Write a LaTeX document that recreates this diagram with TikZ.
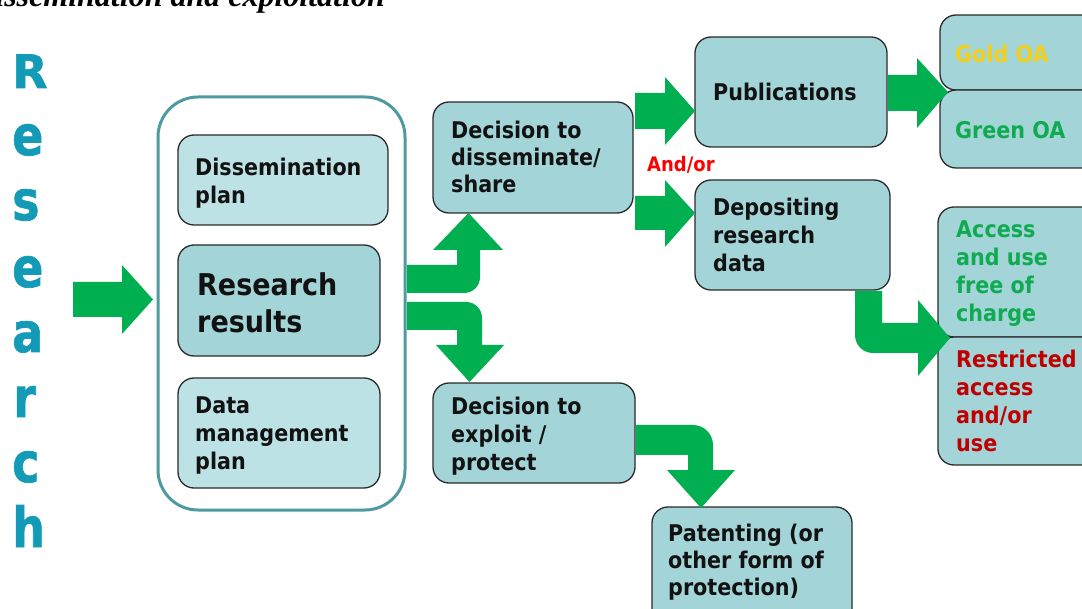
\documentclass[tikz,border=0pt]{standalone}
\usepackage{fontspec}
\setmainfont{DejaVu Sans}
\newfontfamily\boxfont{DejaVu Sans}[FakeStretch=0.9]
\newfontfamily\letterfont{DejaVu Sans}[BoldFeatures={FakeBold=1.3}]
\newfontfamily\titlefont{Liberation Serif}
\definecolor{teal1}{HTML}{139AB6}
\definecolor{contline}{HTML}{4E9AA0}
\definecolor{lightfill}{HTML}{BCE2E5}
\definecolor{darkfill}{HTML}{A2D4D8}
\definecolor{boxline}{HTML}{2B2B2B}
\definecolor{agreen}{HTML}{00B050}
\definecolor{tgreen}{HTML}{10AA50}
\definecolor{tgold}{HTML}{F2CF1A}
\definecolor{tred}{HTML}{C00000}
\definecolor{andred}{HTML}{FF0000}
\newcommand\lines[1]{\begin{tabular}[t]{@{}l@{}}#1\end{tabular}}
\newcommand\tall[1]{\scalebox{1}[1.2]{#1}}
\tikzset{
  box/.style={draw=boxline, line width=1.3pt, rounded corners=16pt, inner sep=0pt},
  lightbox/.style={box, fill=lightfill},
  darkbox/.style={box, fill=darkfill},
  txt/.style={anchor=base west, inner sep=0pt, text=black!93,
    font=\boxfont\bfseries\fontsize{23}{28}\selectfont},
  txtb/.style={txt, font=\boxfont\bfseries\fontsize{23}{27}\selectfont},
  bigtxt/.style={txt, font=\boxfont\bfseries\fontsize{30}{37}\selectfont},
  letter/.style={anchor=base west, inner sep=0pt, text=teal1,
    font=\letterfont\bfseries\fontsize{46}{46}\selectfont},
  blockarrow/.style={fill=agreen}
}
\begin{document}
\begin{tikzpicture}[x=1pt,y=-1pt]
\useasboundingbox (0,0) rectangle (1082,609);
\clip (0,0) rectangle (1082,609);

% cut title
\node[anchor=base east, inner sep=0pt, text=black,
  font=\titlefont\bfseries\itshape\fontsize{32}{32}\selectfont] (title) at (385,7)
  {dissemination and exploitation};

% vertical word
\node[letter] (l1) at (12,88) {R};
\node[letter] (l2) at (12,155) {\tall{e}};
\node[letter] (l3) at (12,220) {\tall{s}};
\node[letter] (l4) at (12,287) {\tall{e}};
\node[letter] (l5) at (12,352) {\tall{a}};
\node[letter] (l6) at (13,417) {\tall{r}};
\node[letter] (l7) at (12,482) {\tall{c}};
\node[letter] (l8) at (12,547) {\tall{h}};

% container
\node[draw=contline, line width=3pt, rounded corners=40pt, fill=white,
  minimum width=247pt, minimum height=413pt, inner sep=0pt] (cont) at (281.5,303.5) {};

% boxes
\node[lightbox, minimum width=210pt, minimum height=90pt] (dp) at (283,180) {};
\node[darkbox, minimum width=202pt, minimum height=111pt] (rr) at (279,300.5) {};
\node[lightbox, minimum width=202pt, minimum height=110pt] (dmp) at (279,433) {};
\node[darkbox, minimum width=200pt, minimum height=111pt] (dd) at (533,157.5) {};
\node[darkbox, minimum width=192pt, minimum height=110pt] (pub) at (791,92) {};
\node[darkbox, minimum width=195pt, minimum height=110pt] (dep) at (792.5,235) {};
\node[darkbox, minimum width=160pt, minimum height=75pt] (gold) at (1020,52.5) {};
\node[darkbox, minimum width=160pt, minimum height=78pt] (green) at (1020,129) {};
\node[darkbox, minimum width=162pt, minimum height=130pt] (acc) at (1019,272) {};
\node[darkbox, minimum width=162pt, minimum height=128pt] (res) at (1019,401) {};
\node[darkbox, minimum width=202pt, minimum height=100pt] (de) at (534,433) {};
\node[darkbox, minimum width=200pt, minimum height=133pt] (pat) at (752,573.5) {};

% texts
\node[txt] (dpt) at (195,176) {\lines{Dissemination\\plan}};
\node[bigtxt] (rrt) at (197,296) {\lines{Research\\results}};
\node[txt] (dmpt) at (195,414) {\lines{Data\\management\\plan}};
\node[txtb] (ddt) at (451,139) {\lines{Decision to\\disseminate/\\share}};
\node[txt] (pubt) at (713,101) {Publications};
\node[txt] (dept) at (713,216) {\lines{Depositing\\research\\data}};
\node[anchor=base west, inner sep=0pt, text=andred,
  font=\boxfont\bfseries\fontsize{20}{24}\selectfont] (andor) at (647,172) {And/or};
\node[txt, text=tgold] (goldt) at (955,63) {Gold OA};
\node[txt, text=tgreen] (greent) at (955,139) {Green OA};
\node[txt, text=tgreen] (acct) at (956,238) {\lines{Access\\and use\\free of\\charge}};
\node[txt, text=tred] (rest) at (956,368) {\lines{Restricted\\access\\and/or\\use}};
\node[txt] (det) at (451,415) {\lines{Decision to\\exploit /\\protect}};
\node[txtb] (patt) at (668,541) {\lines{Patenting (or\\other form of\\protection)}};

% block arrows
% research -> container
\fill[blockarrow] (73,282) -- (122,282) -- (122,265) -- (153,299.5) -- (122,334)
  -- (122,317) -- (73,317) -- cycle;
% container -> decision to disseminate (up)
\fill[blockarrow] (407,265) -- (457,265) -- (457,250) -- (433,250) -- (468.5,213)
  -- (503,250) -- (480,250) -- (480,277) .. controls (480,286) and (473,293) .. (464,293)
  -- (407,293) -- cycle;
% container -> decision to exploit (down)
\fill[blockarrow] (407,302) -- (466,302) .. controls (475,302) and (482,309) .. (482,318)
  -- (482,345) -- (504,345) -- (469.5,382) -- (436,345) -- (457,345) -- (457,330)
  -- (407,330) -- cycle;
% decision -> publications
\fill[blockarrow] (635,93) -- (665,93) -- (665,77) -- (695,111) -- (665,145)
  -- (665,129) -- (635,129) -- cycle;
% decision -> depositing
\fill[blockarrow] (635,196) -- (665,196) -- (665,180) -- (695,213) -- (665,247)
  -- (665,230) -- (635,230) -- cycle;
% publications -> gold/green
\fill[blockarrow] (888,75) -- (917,75) -- (917,58) -- (948,92) -- (917,128)
  -- (917,111) -- (888,111) -- cycle;
% depositing -> access/restricted
\fill[blockarrow] (855,291) -- (882,291) -- (882,323) -- (918,323) -- (918,300)
  -- (950,338) -- (918,376) -- (918,353) -- (873,353)
  .. controls (863,353) and (855,345) .. (855,335) -- cycle;
% exploit -> patenting
\fill[blockarrow] (636,425) -- (693,425) .. controls (704,425) and (713,434) .. (713,445)
  -- (713,470) -- (735,470) -- (701,508) -- (667,470) -- (688,470) -- (688,455)
  -- (636,455) -- cycle;
\end{tikzpicture}
\end{document}
